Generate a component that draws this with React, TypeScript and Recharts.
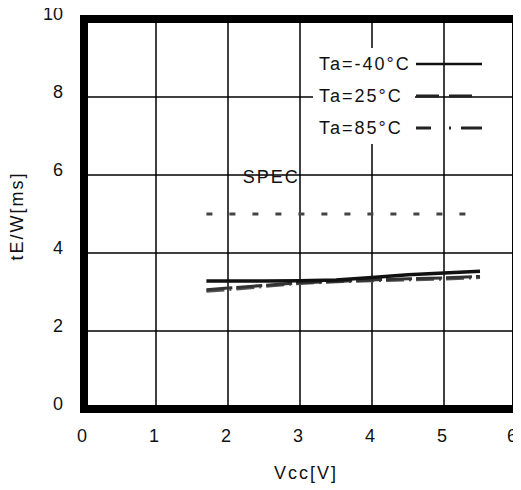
import React from 'react';
import {
  ComposedChart,
  Line,
  XAxis,
  YAxis,
  CartesianGrid,
  ReferenceArea,
  ReferenceDot,
  Legend,
} from 'recharts';

// ---- data ----
const vccValues = [1.7, 2.0, 2.5, 3.0, 3.5, 4.0, 4.5, 5.0, 5.5];
const taMinus40 = [3.28, 3.28, 3.28, 3.29, 3.31, 3.37, 3.44, 3.49, 3.53];
const ta25 = [3.06, 3.1, 3.17, 3.24, 3.27, 3.31, 3.34, 3.36, 3.4];
const ta85 = [3.02, 3.06, 3.14, 3.22, 3.26, 3.29, 3.31, 3.33, 3.37];
const specVcc = [1.7, 5.3];
const specValue = [5, 5];
const xTicks = [0, 1, 2, 3, 4, 5, 6];
const yTicks = [0, 2, 4, 6, 8, 10];
const seriesNames = ['Ta=-40°C', 'Ta=25°C', 'Ta=85°C'];

const curveData = vccValues.map((v, i) => ({
  vcc: v,
  m40: taMinus40[i],
  t25: ta25[i],
  t85: ta85[i],
}));
const specData = specVcc.map((v, i) => ({ vcc: v, spec: specValue[i] }));

const FONT = '"Liberation Sans", Arial, sans-serif';

const legendStyles = [
  { stroke: '#111', width: 2.5, dash: undefined as string | undefined },
  { stroke: '#222', width: 3, dash: '23 10' },
  { stroke: '#222', width: 3, dash: '15 18 2 10 30' },
];

const XTick = (props: any) => {
  const { x, y, payload } = props;
  const dx = payload.value === 6 ? -4 : -2;
  return (
    <text x={x + dx} y={y + 27} textAnchor="middle" dominantBaseline="central"
      fontFamily={FONT} fontSize={18} fill="#111">
      {payload.value}
    </text>
  );
};

const YTick = (props: any) => {
  const { x, y, payload } = props;
  return (
    <text x={x - 21} y={y - 5} textAnchor="end" dominantBaseline="central"
      fontFamily={FONT} fontSize={18} fill="#111">
      {payload.value}
    </text>
  );
};

const LegendContent = () => (
  <div style={{ fontFamily: FONT, fontSize: 18, color: '#111' }}>
    {seriesNames.map((name, i) => {
      const s = legendStyles[i];
      return (
        <div key={name} style={{ display: 'flex', alignItems: 'center', height: 32 }}>
          <span style={{
            display: 'inline-block', width: 96, paddingLeft: 6, background: '#fff',
            letterSpacing: 2, lineHeight: '32px', whiteSpace: 'nowrap',
          }}>{name}</span>
          <svg width={67} height={32} style={{ display: 'block' }}>
            <line x1={1} x2={67} y1={16} y2={16} stroke={s.stroke}
              strokeWidth={s.width} strokeDasharray={s.dash} />
          </svg>
        </div>
      );
    })}
  </div>
);

export default function App() {
  return (
    <div style={{ margin: '-8px 0 0 -8px', width: 521, height: 490 }}>
      <ComposedChart
        width={521}
        height={490}
        margin={{ top: 19, right: 5, left: 44, bottom: 51 }}
        style={{ background: '#fff' }}
      >
        <CartesianGrid stroke="#000" strokeWidth={1.5} />
        <XAxis
          type="number"
          dataKey="vcc"
          domain={[0, 6]}
          ticks={xTicks}
          allowDataOverflow
          axisLine={false}
          tickLine={false}
          tickSize={0}
          tickMargin={0}
          height={30}
          tick={<XTick />}
          label={{
            content: (p: any) => {
              const vb = p.viewBox;
              return (
                <text x={vb.x + vb.width / 2 + 6} y={vb.y + 64} textAnchor="middle"
                  dominantBaseline="central" fontFamily={FONT} fontSize={18}
                  letterSpacing={2} fill="#111">Vcc[V]</text>
              );
            },
          }}
        />
        <YAxis
          type="number"
          domain={[0, 10]}
          ticks={yTicks}
          allowDataOverflow
          axisLine={false}
          tickLine={false}
          tickSize={0}
          tickMargin={0}
          width={40}
          tick={<YTick />}
          label={{
            content: (p: any) => {
              const vb = p.viewBox;
              const cx = 17;
              const cy = vb.y + vb.height / 2 + 2;
              return (
                <text x={cx} y={cy} textAnchor="middle" dominantBaseline="central"
                  transform={`rotate(-90 ${cx} ${cy})`} fontFamily={FONT} fontSize={18}
                  letterSpacing={2} fill="#111">tE/W[ms]</text>
              );
            },
          }}
        />
        <Line data={specData} dataKey="spec" stroke="#444" strokeWidth={3}
          strokeDasharray="6 17" dot={false} isAnimationActive={false} legendType="none" />
        <Line data={curveData} dataKey="t85" name={seriesNames[2]} stroke="#555" strokeWidth={3}
          strokeDasharray="18 5 2 5" dot={false} isAnimationActive={false} />
        <Line data={curveData} dataKey="t25" name={seriesNames[1]} stroke="#333" strokeWidth={3}
          strokeDasharray="26 4" dot={false} isAnimationActive={false} />
        <Line data={curveData} dataKey="m40" name={seriesNames[0]} stroke="#111" strokeWidth={3.5}
          dot={false} isAnimationActive={false} />
        <ReferenceDot x={2.6} y={5.97} r={0} fill="none" stroke="none"
          label={{ value: 'SPEC', position: 'center', fontFamily: FONT, fontSize: 18, fill: '#111', letterSpacing: 2 }} />
        <ReferenceArea x1={0} x2={6} y1={0} y2={10} fill="none" fillOpacity={0}
          stroke="#000" strokeWidth={8} />
        <Legend
          layout="vertical"
          align="center"
          verticalAlign="middle"
          content={<LegendContent />}
          wrapperStyle={{ position: 'absolute', left: 313, top: 48, width: 'auto', height: 'auto' }}
        />
      </ComposedChart>
    </div>
  );
}
